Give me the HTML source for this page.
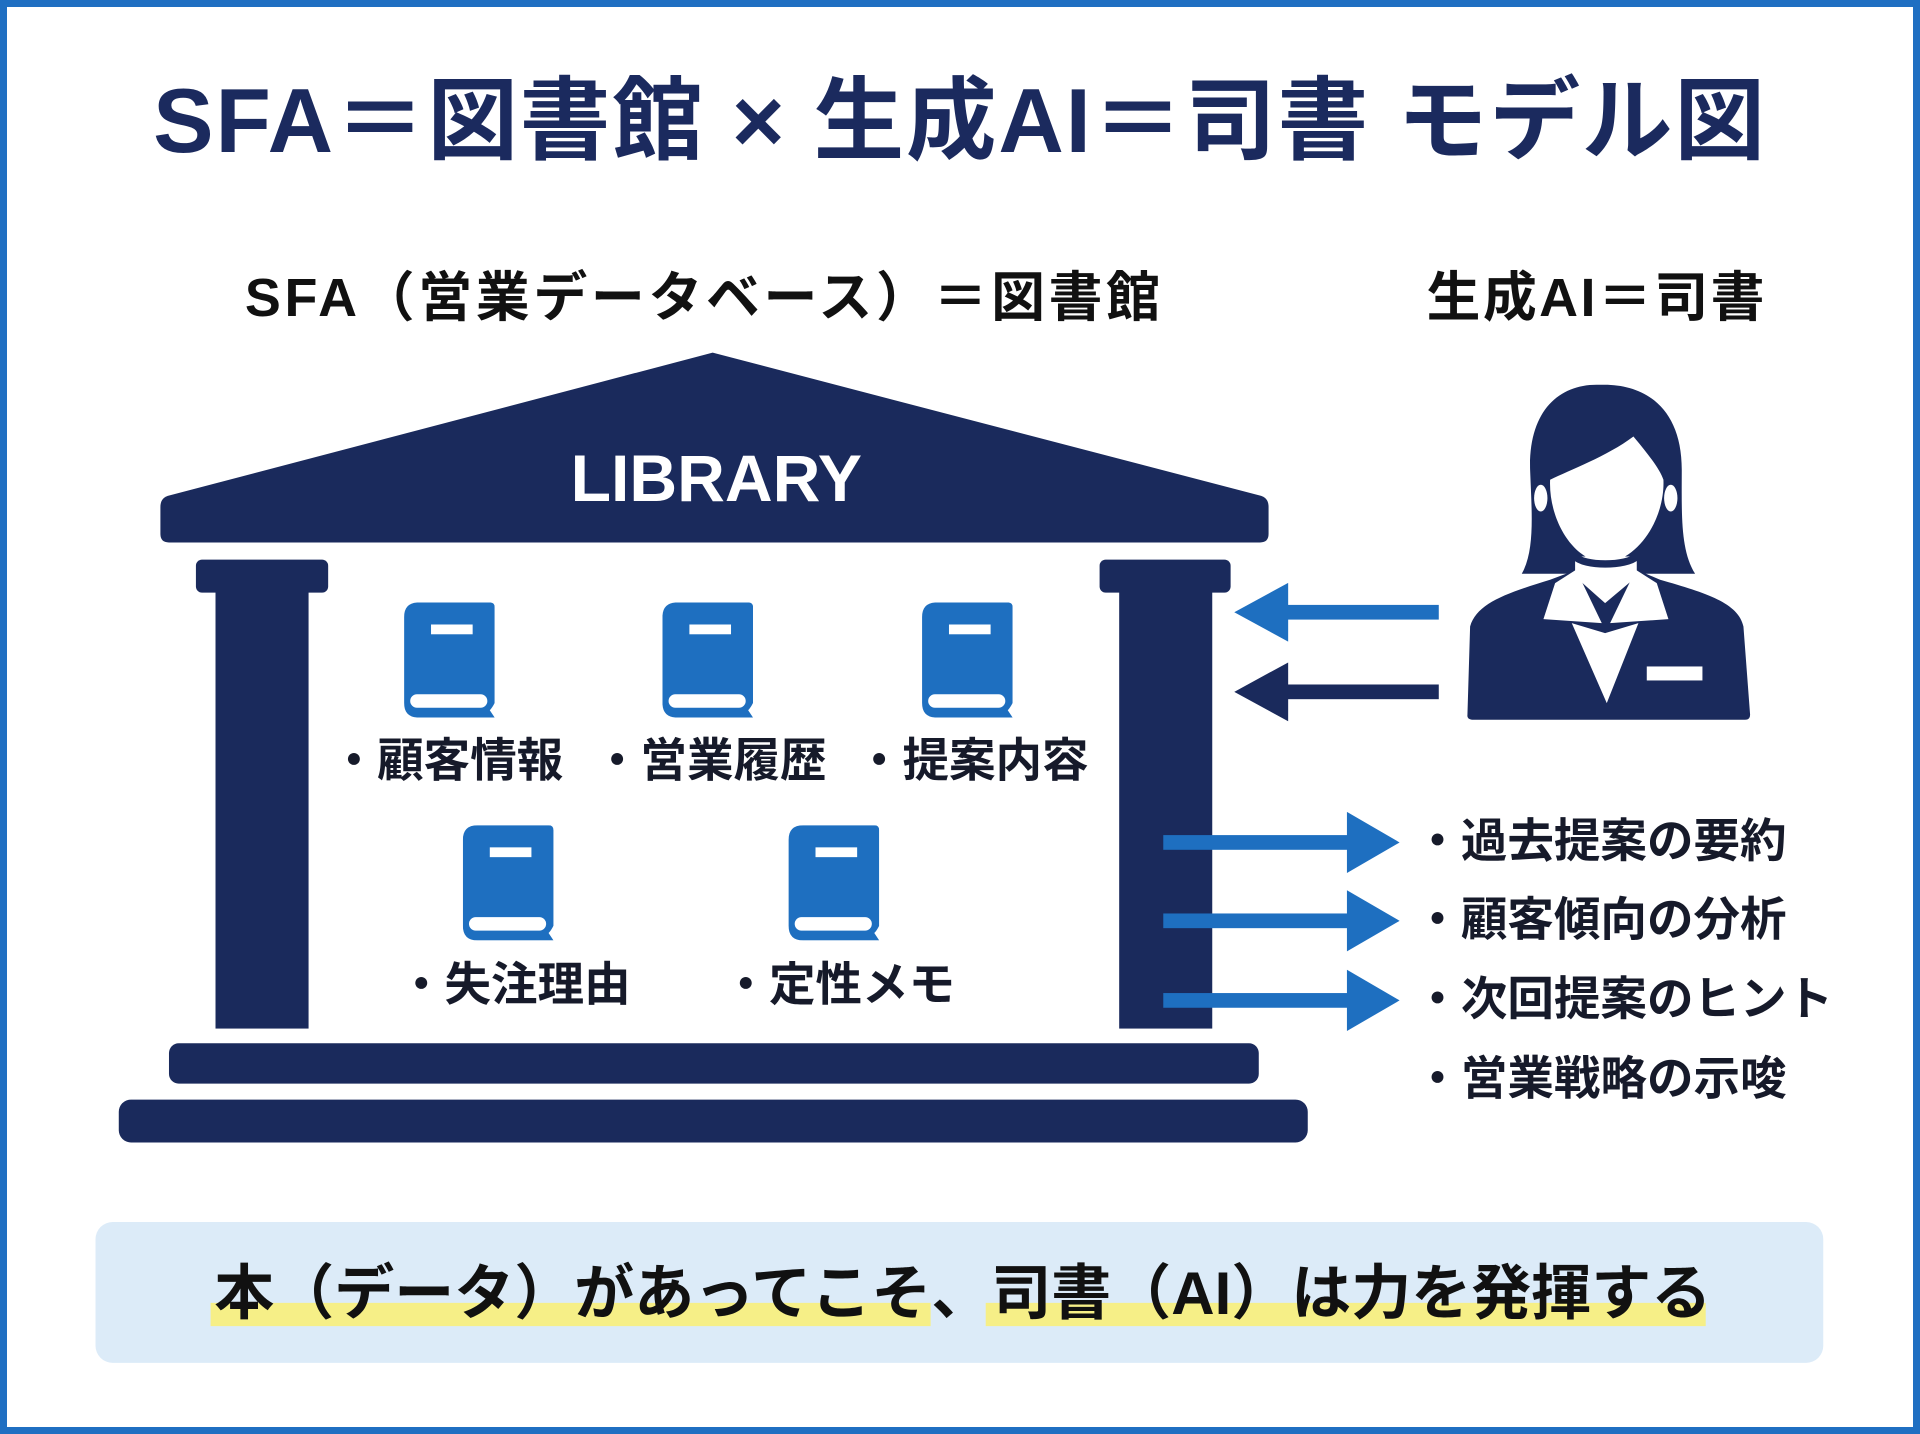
<!DOCTYPE html>
<html><head><meta charset="utf-8"><style>
html,body{margin:0;padding:0;background:#fff;}
body{width:1920px;height:1434px;overflow:hidden;position:relative;font-family:"Liberation Sans","Noto Sans CJK JP",sans-serif;}
#frame{position:absolute;left:0;top:0;width:1920px;height:1434px;box-sizing:border-box;border:7px solid #1f6fc2;}
#s{position:absolute;left:0;top:0;width:1568px;height:1171px;transform:scale(1.22449);transform-origin:0 0;}
.t{position:absolute;white-space:nowrap;font-weight:700;line-height:1;}
.b{position:absolute;width:74px;height:94px;}
.lbl{font-size:38px;color:#161a2a;}
</style></head><body>
<div id="frame"></div>
<div id="s">
<div class="t" style="left:0;width:1568px;text-align:center;top:62px;font-size:74px;color:#1b2a5e;letter-spacing:1.5px;">SFA＝図書館 × 生成AI＝司書 モデル図</div>
<div class="t" style="left:200px;top:222px;font-size:44px;color:#111;letter-spacing:3px;">SFA（営業データベース）＝図書館</div>
<div class="t" style="left:1165px;top:222px;font-size:44px;color:#111;letter-spacing:2px;">生成AI＝司書</div>

<svg style="position:absolute;left:0;top:0" width="1568" height="1171">
<path d="M582,288 L1030,405 Q1036,407 1036,414 L1036,436 Q1036,443 1029,443 L138,443 Q131,443 131,436 L131,414 Q131,407 137,405 Z" fill="#1a2a5c"/>
<rect x="160" y="457" width="108" height="27" rx="5" fill="#1a2a5c"/>
<rect x="176" y="480" width="76" height="360" fill="#1a2a5c"/>
<rect x="898" y="457" width="107" height="27" rx="5" fill="#1a2a5c"/>
<rect x="914" y="480" width="76" height="360" fill="#1a2a5c"/>
<rect x="138" y="852" width="890" height="33" rx="8" fill="#1a2a5c"/>
<rect x="97" y="898" width="971" height="35" rx="10" fill="#1a2a5c"/>
<rect x="1045" y="494" width="130" height="12" fill="#1e6fc0"/>
<polygon points="1008,500 1052,476 1052,524" fill="#1e6fc0"/>
<rect x="1045" y="559" width="130" height="12" fill="#1a2a5c"/>
<polygon points="1008,565 1052,541 1052,589" fill="#1a2a5c"/>
<g fill="#1e6fc0">
<rect x="950" y="682" width="155" height="12"/><polygon points="1143,688 1100,663 1100,713"/>
<rect x="950" y="746" width="155" height="12"/><polygon points="1143,752 1100,727 1100,777"/>
<rect x="950" y="811" width="155" height="12"/><polygon points="1143,817 1100,792 1100,842"/>
</g>
</svg>
<div class="t" style="left:0;width:1170px;text-align:center;top:364px;font-size:54px;color:#fff;">LIBRARY</div>

<svg class="b" style="left:330px;top:492px" viewBox="0 0 74 94"><path d="M12,0 H70 Q74,0 74,4 V82 Q72,86 70,88 L74,94 H12 Q0,94 0,82 V12 Q0,0 12,0Z" fill="#1e6fc0"/><rect x="22" y="18" width="34" height="8" fill="#fff"/><rect x="5" y="75" width="63" height="11" rx="5.5" fill="#fff"/></svg>
<svg class="b" style="left:541px;top:492px" viewBox="0 0 74 94"><path d="M12,0 H70 Q74,0 74,4 V82 Q72,86 70,88 L74,94 H12 Q0,94 0,82 V12 Q0,0 12,0Z" fill="#1e6fc0"/><rect x="22" y="18" width="34" height="8" fill="#fff"/><rect x="5" y="75" width="63" height="11" rx="5.5" fill="#fff"/></svg>
<svg class="b" style="left:753px;top:492px" viewBox="0 0 74 94"><path d="M12,0 H70 Q74,0 74,4 V82 Q72,86 70,88 L74,94 H12 Q0,94 0,82 V12 Q0,0 12,0Z" fill="#1e6fc0"/><rect x="22" y="18" width="34" height="8" fill="#fff"/><rect x="5" y="75" width="63" height="11" rx="5.5" fill="#fff"/></svg>
<svg class="b" style="left:378px;top:674px" viewBox="0 0 74 94"><path d="M12,0 H70 Q74,0 74,4 V82 Q72,86 70,88 L74,94 H12 Q0,94 0,82 V12 Q0,0 12,0Z" fill="#1e6fc0"/><rect x="22" y="18" width="34" height="8" fill="#fff"/><rect x="5" y="75" width="63" height="11" rx="5.5" fill="#fff"/></svg>
<svg class="b" style="left:644px;top:674px" viewBox="0 0 74 94"><path d="M12,0 H70 Q74,0 74,4 V82 Q72,86 70,88 L74,94 H12 Q0,94 0,82 V12 Q0,0 12,0Z" fill="#1e6fc0"/><rect x="22" y="18" width="34" height="8" fill="#fff"/><rect x="5" y="75" width="63" height="11" rx="5.5" fill="#fff"/></svg>

<div class="t lbl" style="left:270px;top:603px;">・顧客情報</div>
<div class="t lbl" style="left:485px;top:603px;">・営業履歴</div>
<div class="t lbl" style="left:699px;top:603px;">・提案内容</div>
<div class="t lbl" style="left:325px;top:786px;">・失注理由</div>
<div class="t lbl" style="left:590px;top:786px;">・定性メモ</div>

<div class="t lbl" style="left:1155px;top:669px;">・過去提案の要約</div>
<div class="t lbl" style="left:1155px;top:733px;">・顧客傾向の分析</div>
<div class="t lbl" style="left:1155px;top:798px;">・次回提案のヒント</div>
<div class="t lbl" style="left:1155px;top:863px;">・営業戦略の示唆</div>

<svg style="position:absolute;left:1184px;top:302px" width="270" height="294" viewBox="0 0 990 1080">
<path d="M215,612 C255,540 245,430 240,300 C235,120 330,40 450,45 C580,40 695,110 695,300 C695,430 690,540 735,612 Z" fill="#1a2a5c"/>
<path d="M60,770 C80,700 170,670 300,630 L380,600 L560,600 L630,630 C770,670 865,700 880,770 L900,1035 Q900,1050 885,1050 L70,1050 Q50,1050 52,1035 Z" fill="#1a2a5c"/>
<path d="M375,560 L375,620 L465,700 L560,620 L560,560 Z" fill="#fff"/>
<path d="M300,330 C360,300 470,260 550,200 C600,260 630,300 640,330 C645,450 560,575 465,578 C370,575 295,450 300,330 Z" fill="#fff"/>
<ellipse cx="272" cy="385" rx="20" ry="40" fill="#fff"/>
<ellipse cx="662" cy="385" rx="20" ry="40" fill="#fff"/>
<path d="M375,560 C400,590 530,590 560,560" fill="none" stroke="#1a2a5c" stroke-width="22"/>
<path d="M315,640 L378,600 L455,760 L280,748 Z" fill="#fff"/>
<path d="M620,640 L557,600 L480,760 L655,748 Z" fill="#fff"/>
<path d="M365,760 L465,790 L565,760 L470,1000 Z" fill="#fff"/>
<rect x="590" y="890" width="167" height="42" fill="#fff"/>
</svg>

<div style="position:absolute;left:78px;top:998px;width:1411px;height:115px;background:#dcebf8;border-radius:14px;"></div>
<div style="position:absolute;left:172px;top:1064px;width:588px;height:19px;background:#f6ef87;"></div>
<div style="position:absolute;left:805px;top:1064px;width:588px;height:19px;background:#f6ef87;"></div>
<div class="t" style="left:175px;top:1033px;font-size:49px;color:#111;">本（データ）があってこそ、司書（AI）は力を発揮する</div>
</div>
</body></html>
